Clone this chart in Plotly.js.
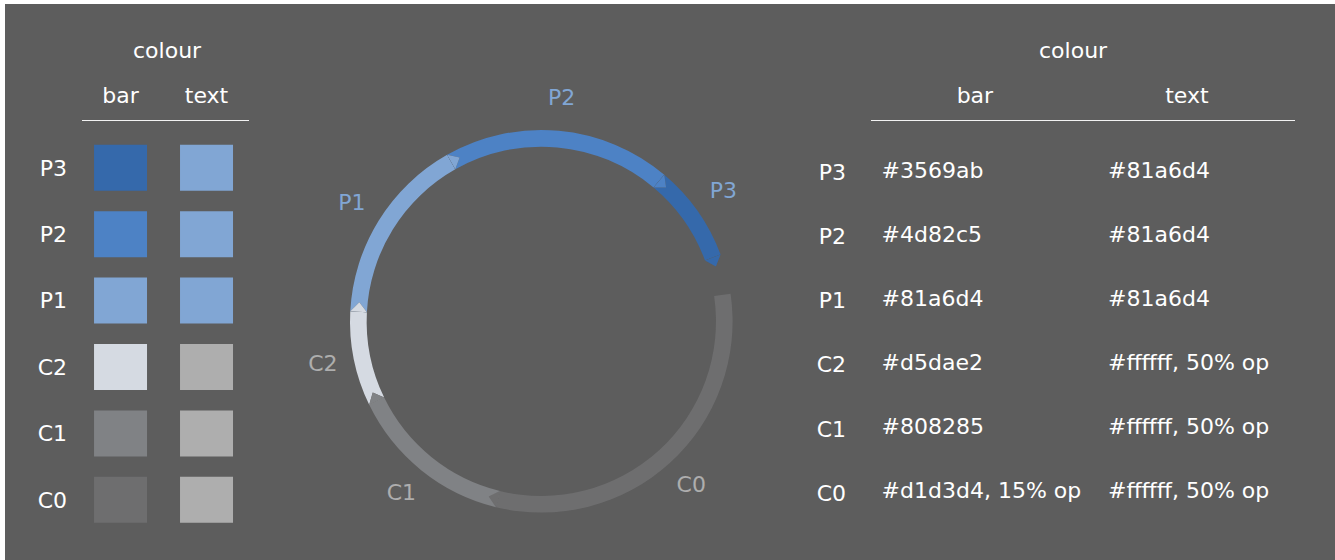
<!DOCTYPE html>
<html>
<head>
<meta charset="utf-8">
<script src="https://cdn.plot.ly/plotly-3.0.1.min.js"></script>
<style>html,body{margin:0;padding:0;background:#fff;}#chart{width:1335px;height:560px;}</style>
</head>
<body>
<div id="chart"></div>
<script>
// ---------- data ----------
const rows = ['P3', 'P2', 'P1', 'C2', 'C1', 'C0'];
const columns = ['bar', 'text'];
const headerText = 'colour';
const barColours = ['#3569ab', '#4d82c5', '#81a6d4', '#d5dae2', '#808285', 'rgba(209,211,212,0.15)'];
const textColours = ['#81a6d4', '#81a6d4', '#81a6d4', 'rgba(255,255,255,0.5)', 'rgba(255,255,255,0.5)', 'rgba(255,255,255,0.5)'];
const barHex = ['#3569ab', '#4d82c5', '#81a6d4', '#d5dae2', '#808285', '#d1d3d4, 15% op'];
const textHex = ['#81a6d4', '#81a6d4', '#81a6d4', '#ffffff, 50% op', '#ffffff, 50% op', '#ffffff, 50% op'];
const ringSegments = ['C0', 'C1', 'C2', 'P1', 'P2', 'P3'];
const ringSpans = [112, 50.4, 28.9, 57.5, 69.5, 29.6];   // degrees
const ringStart = 351.7;                                   // degrees, clockwise from east

// ---------- style / layout constants ----------
const W = 1335, H = 560;
const BG = '#5d5d5d';
const FONT = 'DejaVu Sans';
const FS = 22;
const px = v => v / W;
const py = v => 1 - v / H;
const RING_IN = 0.913, TIP = 3.0, LABEL_R = 1.165, R_MAX = 1.22;

const colourOf = name => barColours[rows.indexOf(name)];
const labelColourOf = name => textColours[rows.indexOf(name)];

// ring geometry from the spans
const segStarts = [], segEnds = [], segMids = [];
let acc = ringStart;
ringSpans.forEach(s => { segStarts.push(acc); segEnds.push(acc + s); segMids.push((acc + s / 2) % 360); acc += s; });

const traces = [];

// left table swatches (horizontal bars on a category row axis)
const SW = 53 / 86, SH = 46 / 66.4;
[barColours, textColours].forEach((cols, ci) => {
  traces.push({
    type: 'bar', orientation: 'h', xaxis: 'x', yaxis: 'y',
    y: rows, x: rows.map(() => SW), base: rows.map(() => ci - SW / 2),
    width: SH, marker: {color: cols, line: {width: 0}},
    hoverinfo: 'skip', showlegend: false
  });
});

// right table text cells
[[barHex, 0.025], [textHex, 0.559]].forEach(([txt, xs]) => {
  traces.push({
    type: 'scatter', mode: 'text', xaxis: 'x2', yaxis: 'y2',
    x: rows.map(() => xs), y: rows, text: txt, textposition: 'middle right',
    textfont: {family: FONT, size: FS, color: '#ffffff'}, cliponaxis: false,
    hoverinfo: 'skip', showlegend: false
  });
});

// ring segments
traces.push({
  type: 'barpolar', subplot: 'polar',
  r: ringSegments.map(() => 1 - RING_IN), base: RING_IN,
  theta: segMids, width: ringSpans,
  marker: {color: ringSegments.map(colourOf), line: {width: 0}},
  hoverinfo: 'skip', showlegend: false
});

// arrow tips at each segment end
ringSegments.forEach((name, i) => {
  const e = segEnds[i] % 360;
  const tri = {r: [1, RING_IN, (1 + RING_IN) / 2, 1], theta: [e, e, e + TIP, e]};
  [BG, colourOf(name)].forEach(fc => {
    traces.push({
      type: 'scatterpolar', subplot: 'polar', mode: 'lines', fill: 'toself',
      r: tri.r, theta: tri.theta, fillcolor: fc, line: {width: 0, color: fc},
      hoverinfo: 'skip', showlegend: false
    });
  });
});

// ring labels
traces.push({
  type: 'scatterpolar', subplot: 'polar', mode: 'text',
  r: ringSegments.map(() => LABEL_R), theta: segMids, text: ringSegments,
  textposition: 'middle center', cliponaxis: false,
  textfont: {family: FONT, size: FS, color: ringSegments.map(labelColourOf)},
  hoverinfo: 'skip', showlegend: false
});

const tickFont = {family: FONT, size: FS, color: '#ffffff'};
const lineCol = 'rgba(255,255,255,0.92)';
const ringCx = 541.3, ringCy = 321.3, ringR = 191.3 * R_MAX;

const layout = {
  width: W, height: H,
  margin: {l: 0, r: 0, t: 0, b: 0, pad: 0},
  paper_bgcolor: '#ffffff', plot_bgcolor: 'rgba(0,0,0,0)',
  font: {family: FONT, size: FS, color: '#ffffff'},
  showlegend: false,
  barmode: 'overlay',
  xaxis: {
    domain: [px(82), px(249)], range: [-0.448, 1.494], anchor: 'y', side: 'top',
    tickvals: [0, 1], ticktext: columns, ticks: '', ticklabelstandoff: 8,
    showline: true, linecolor: lineCol, linewidth: 1.5, showgrid: false, zeroline: false,
    tickfont: tickFont, fixedrange: true
  },
  yaxis: {
    domain: [py(540), py(121)], type: 'category', categoryarray: rows,
    range: [5.605, -0.705], anchor: 'x', ticks: '', ticklabelstandoff: 14,
    showline: false, showgrid: false, zeroline: false, tickfont: tickFont, fixedrange: true
  },
  xaxis2: {
    domain: [px(871), px(1295)], range: [0, 1], anchor: 'y2', side: 'top',
    tickvals: [0.245, 0.745], ticktext: columns, ticks: '', ticklabelstandoff: 8,
    showline: true, linecolor: lineCol, linewidth: 1.5, showgrid: false, zeroline: false,
    tickfont: tickFont, fixedrange: true
  },
  yaxis2: {
    domain: [py(540), py(121)], type: 'category', categoryarray: rows,
    range: [5.734, -0.802], anchor: 'x2', ticks: '', ticklabelstandoff: 24,
    showline: false, showgrid: false, zeroline: false, tickfont: tickFont, fixedrange: true
  },
  polar: {
    domain: {x: [px(ringCx - ringR), px(ringCx + ringR)], y: [py(ringCy + ringR), py(ringCy - ringR)]},
    bgcolor: 'rgba(0,0,0,0)',
    radialaxis: {visible: false, range: [0, R_MAX]},
    angularaxis: {visible: false, direction: 'clockwise', rotation: 0}
  },
  shapes: [{
    type: 'rect', xref: 'paper', yref: 'paper', layer: 'below',
    x0: px(5), x1: 1, y0: 0, y1: py(4), fillcolor: BG, line: {width: 0}
  }],
  annotations: [
    {xref: 'paper', yref: 'paper', x: px(167), y: py(50), text: headerText, showarrow: false,
     xanchor: 'center', yanchor: 'middle', font: tickFont},
    {xref: 'paper', yref: 'paper', x: px(1073.5), y: py(50), text: headerText, showarrow: false,
     xanchor: 'center', yanchor: 'middle', font: tickFont}
  ]
};

Plotly.newPlot('chart', traces, layout, {staticPlot: true, displayModeBar: false});
</script>
</body>
</html>
